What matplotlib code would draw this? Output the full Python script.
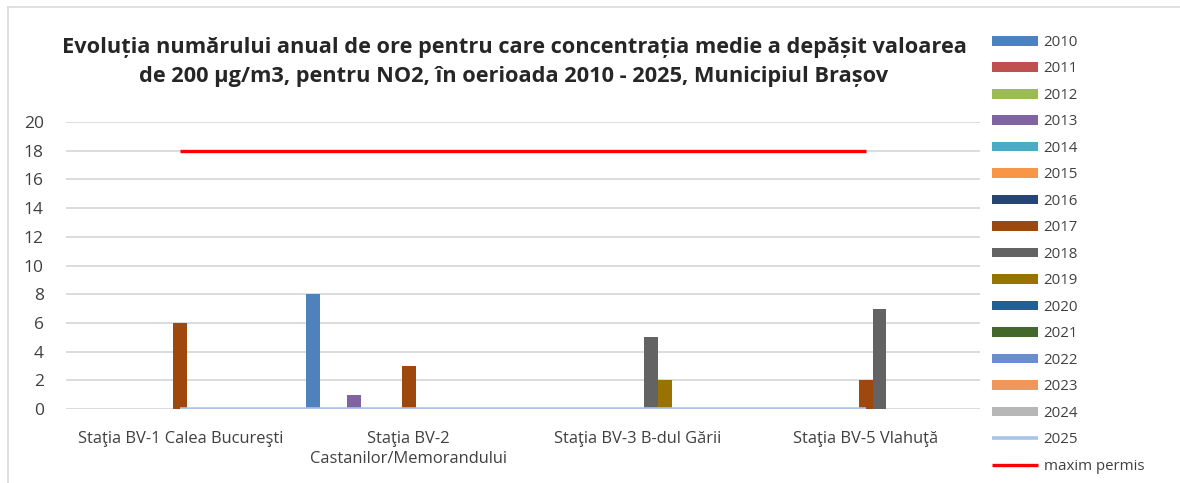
import matplotlib
matplotlib.use("Agg")
import matplotlib.pyplot as plt
import numpy as np
from matplotlib.lines import Line2D

plt.rcParams['font.family'] = ['Open Sans', 'DejaVu Sans']

categories = ["Staţia BV-1 Calea Bucureşti", "Staţia BV-2\nCastanilor/Memorandului",
              "Staţia BV-3 B-dul Gării", "Staţia BV-5 Vlahuţă"]
bar_years = ["2010", "2011", "2012", "2013", "2014", "2015", "2016", "2017",
             "2018", "2019", "2020", "2021", "2022", "2023", "2024"]
bar_values = {
    "2010": [0, 8, 0, 0],
    "2011": [0, 0, 0, 0],
    "2012": [0, 0, 0, 0],
    "2013": [0, 1, 0, 0],
    "2014": [0, 0, 0, 0],
    "2015": [0, 0, 0, 0],
    "2016": [0, 0, 0, 0],
    "2017": [6, 3, 0, 2],
    "2018": [0, 0, 5, 7],
    "2019": [0, 0, 2, 0],
    "2020": [0, 0, 0, 0],
    "2021": [0, 0, 0, 0],
    "2022": [0, 0, 0, 0],
    "2023": [0, 0, 0, 0],
    "2024": [0, 0, 0, 0],
}
line_2025 = [0, 0, 0, 0]
maxim_permis = [18, 18, 18, 18]
yticks = [0, 2, 4, 6, 8, 10, 12, 14, 16, 18, 20]

bar_colors = ["#4F81BD", "#C0504D", "#9BBB59", "#8064A2", "#4BACC6", "#F79646",
              "#264478", "#9E480E", "#636363", "#997300", "#255E91", "#43682B",
              "#698ED0", "#F1975A", "#B7B7B7"]

fig = plt.figure(figsize=(11.8, 4.83), dpi=100)
ax = fig.add_axes([66/1180, 1-409/483, (980-66)/1180, (409-122)/483])

x = np.arange(len(categories))
w = 0.06
n = len(bar_years)
handles = []
for i, yr in enumerate(bar_years):
    bc = ax.bar(x + (i - (n-1)/2) * w, bar_values[yr], width=w, color=bar_colors[i],
                label=yr, zorder=3)
    handles.append(bc)
l25, = ax.plot(x, line_2025, color="#A9C4EB", lw=2.6, label="2025", zorder=4,
               solid_capstyle='butt')
lmax, = ax.plot(x, maxim_permis, color="#FF0000", lw=2.4, label="maxim permis", zorder=4,
                solid_capstyle='butt')
handles += [l25, lmax]

ax.set_xlim(-0.5, len(categories) - 0.5)
ax.set_ylim(0, 20)
ax.set_yticks(yticks)
ax.set_xticks(x)
ax.set_xticklabels(categories, fontsize=11.9, color="#404040", linespacing=1.3)
ax.tick_params(axis='y', labelsize=12.5, colors="#404040", length=0, pad=16)
ax.tick_params(axis='x', length=0, pad=16)
for lbl in ax.get_xticklabels():
    lbl.set_verticalalignment('top')
ax.grid(axis='y', color="#D9D9D9", lw=1.3, zorder=0)
for s in ax.spines.values():
    s.set_visible(False)

leg = fig.legend(handles=handles, labels=bar_years + ["2025", "maxim permis"],
                 loc='upper left', bbox_to_anchor=(992/1180, 1-35/483),
                 frameon=False, fontsize=10.8, handlelength=3.05, handleheight=0.62,
                 labelspacing=0.765, handletextpad=0.4, borderaxespad=0, borderpad=0)
for t in leg.get_texts():
    t.set_color("#404040")

fig.text(514/1180, 1-62/483,
         "Evoluția numărului anual de ore pentru care concentrația medie a depășit valoarea\n"
         "de 200 µg/m3, pentru NO2, în oerioada 2010 - 2025, Municipiul Brașov",
         ha='center', va='center', fontsize=15.7, fontweight='bold', color="#262626",
         linespacing=1.45)

# chart border
fig.add_artist(Line2D([8/1180, 8/1180], [0, 1-7/483], transform=fig.transFigure,
                      color="#D9D9D9", lw=1.2))
fig.add_artist(Line2D([8/1180, 1], [1-7/483, 1-7/483], transform=fig.transFigure,
                      color="#D9D9D9", lw=1.2))

fig.savefig("out.png", dpi=100)
